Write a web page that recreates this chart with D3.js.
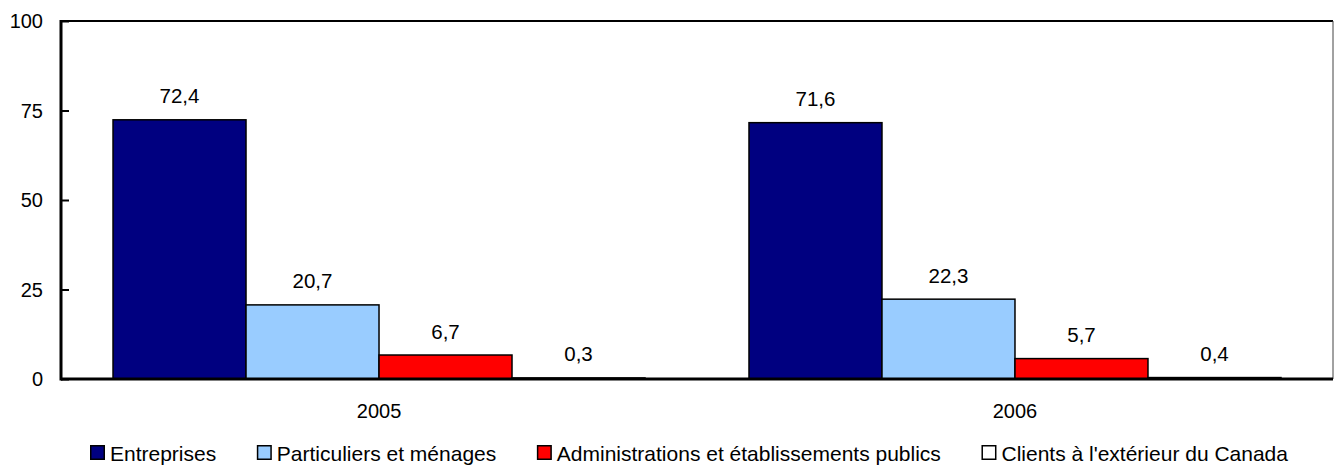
<!DOCTYPE html>
<html>
<head>
<meta charset="utf-8">
<script src="https://cdn.jsdelivr.net/npm/d3@7"></script>
<style>
  html, body { margin: 0; padding: 0; background: #fff; }
  svg { display: block; font-family: "Liberation Sans", Arial, Helvetica, sans-serif; }
</style>
</head>
<body>
<svg id="chart" width="1334" height="466"></svg>
<script>
const years = ["2005", "2006"];
const series = ["Entreprises", "Particuliers et ménages", "Administrations et établissements publics", "Clients à l'extérieur du Canada"];
const values2005 = [72.4, 20.7, 6.7, 0.3];
const values2006 = [71.6, 22.3, 5.7, 0.4];
const valueLabels2005 = ["72,4", "20,7", "6,7", "0,3"];
const valueLabels2006 = ["71,6", "22,3", "5,7", "0,4"];
const colors = ["#000080", "#99CCFF", "#FF0000", "#FFFFFF"];
const yTicks = [0, 25, 50, 75, 100];

(function () {
const data = years.map((yr, i) => ({
  year: yr,
  values: series.map((s, j) => ({
    series: s,
    value: i === 0 ? values2005[j] : values2006[j],
    label: i === 0 ? valueLabels2005[j] : valueLabels2006[j],
    color: colors[j]
  }))
}));

const svg = d3.select("#chart");
const pLeft = 61, pRight = 1333, pTop = 21, pBottom = 379;
const fontSize = 20;

const x0 = d3.scaleBand().domain(years).range([pLeft, pRight]).paddingInner(0.1635).paddingOuter(0.0818);
const x1 = d3.scaleBand().domain(series).range([0, x0.bandwidth()]).padding(0);
const y = d3.scaleLinear().domain([0, 100]).range([pBottom, pTop]);

// Frame top & right
svg.append("line").attr("x1", pLeft).attr("x2", pRight).attr("y1", pTop).attr("y2", pTop)
  .attr("stroke", "#000").attr("stroke-width", 2);
svg.append("line").attr("x1", pRight).attr("x2", pRight).attr("y1", pTop).attr("y2", pBottom)
  .attr("stroke", "#444").attr("stroke-width", 1);

// Bars
const groups = svg.append("g").selectAll("g").data(data).join("g")
  .attr("transform", d => `translate(${x0(d.year)},0)`);

groups.selectAll("rect").data(d => d.values).join("rect")
  .attr("x", d => x1(d.series))
  .attr("y", d => y(d.value))
  .attr("width", x1.bandwidth())
  .attr("height", d => y(0) - y(d.value))
  .attr("fill", d => d.color)
  .attr("stroke", "#000")
  .attr("stroke-width", 1.5);

groups.selectAll("text").data(d => d.values).join("text")
  .attr("x", d => x1(d.series) + x1.bandwidth() / 2)
  .attr("y", d => y(d.value) - 16.5)
  .attr("text-anchor", "middle")
  .attr("font-size", 20.5)
  .attr("fill", "#000")
  .text(d => d.label);

// Y axis
const yAxis = svg.append("g").attr("transform", `translate(${pLeft},0)`)
  .call(d3.axisRight(y).tickValues(yTicks).tickSize(8).tickFormat(""));
yAxis.select(".domain").remove();
yAxis.selectAll(".tick line").attr("stroke", "#000").attr("stroke-width", 2);
svg.append("line").attr("x1", pLeft).attr("x2", pLeft).attr("y1", pTop - 1).attr("y2", pBottom + 1.5)
  .attr("stroke", "#000").attr("stroke-width", 3);
svg.append("g").selectAll("text").data(yTicks).join("text")
  .attr("x", 43).attr("y", d => y(d))
  .attr("dy", "0.36em")
  .attr("text-anchor", "end")
  .attr("font-size", fontSize)
  .attr("fill", "#000")
  .text(d => d);

// X axis
const xAxis = svg.append("g").attr("transform", `translate(0,${pBottom})`)
  .call(d3.axisBottom(x0).tickSize(0).tickPadding(0));
xAxis.select(".domain").remove();
xAxis.selectAll(".tick text").attr("font-size", fontSize).attr("fill", "#000")
  .attr("font-family", '"Liberation Sans", Arial, sans-serif')
  .attr("dy", 0).attr("y", 39);
svg.append("line").attr("x1", pLeft).attr("x2", pRight).attr("y1", pBottom).attr("y2", pBottom)
  .attr("stroke", "#000").attr("stroke-width", 3);

// Legend
const legend = svg.append("g");
let lx = 90;
series.forEach((s, j) => {
  legend.append("rect").attr("x", lx + 0.75).attr("y", 445.75).attr("width", 13.5).attr("height", 13.5)
    .attr("fill", colors[j]).attr("stroke", "#000").attr("stroke-width", 1.5);
  const t = legend.append("text").attr("x", lx + 20).attr("y", 460.5)
    .attr("font-size", 21).attr("fill", "#000").text(s);
  lx += 20 + t.node().getComputedTextLength() + 40.6;
});
})();
</script>
</body>
</html>
